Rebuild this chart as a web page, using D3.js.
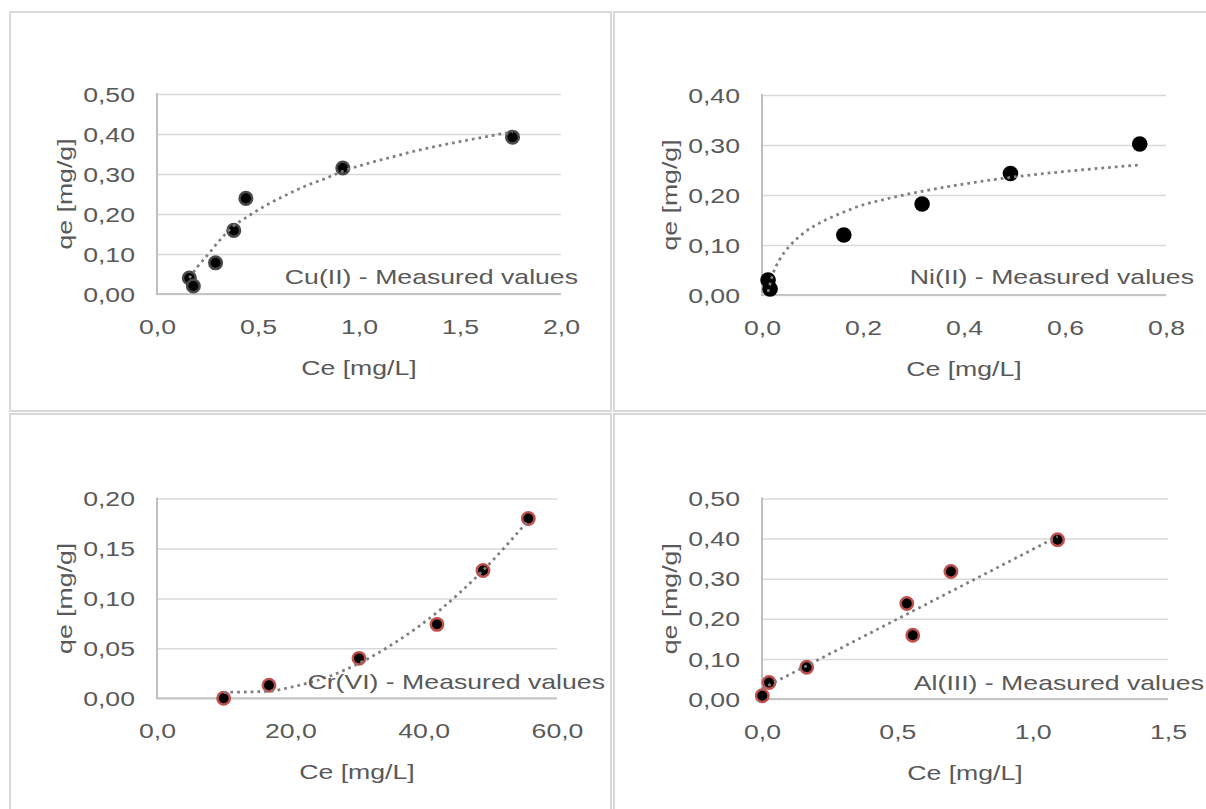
<!DOCTYPE html>
<html>
<head>
<meta charset="utf-8">
<script src="https://cdn.jsdelivr.net/npm/d3@7"></script>
<style>
    body { margin: 0; background: #fff; }
    svg text { font-family: "Liberation Sans", Arial, sans-serif; font-size: 20.5px; fill: #595959; }
</style>
</head>
<body>
<svg id="chart" width="1206" height="809"></svg>
<script>

// ---- data ----
// Cu(II)
var cuCe = [0.16, 0.18, 0.29, 0.38, 0.44, 0.92, 1.76];
var cuQe = [0.040, 0.020, 0.078, 0.159, 0.239, 0.315, 0.392];
var cuTrendCe = [0.16, 0.20, 0.25, 0.30, 0.37, 0.45, 0.53, 0.63, 0.73, 0.83, 0.92, 1.04, 1.16, 1.29, 1.42, 1.55, 1.68, 1.76];
var cuTrendQe = [0.040, 0.068, 0.097, 0.128, 0.166, 0.194, 0.219, 0.245, 0.269, 0.288, 0.307, 0.326, 0.342, 0.359, 0.373, 0.386, 0.398, 0.405];

// Ni(II)
var niCe = [0.012, 0.016, 0.162, 0.317, 0.492, 0.748];
var niQe = [0.030, 0.012, 0.120, 0.182, 0.243, 0.302];
var niTrendCe = [0.012, 0.02, 0.035, 0.053, 0.08, 0.12, 0.16, 0.19, 0.25, 0.32, 0.40, 0.49, 0.60, 0.745];
var niTrendQe = [0.006, 0.037, 0.071, 0.096, 0.122, 0.147, 0.165, 0.177, 0.193, 0.208, 0.222, 0.235, 0.247, 0.260];

// Cr(VI)
var crCe = [10.0, 16.8, 30.3, 42.0, 48.9, 55.7];
var crQe = [0.000, 0.013, 0.040, 0.074, 0.128, 0.180];
var crTrendCe = [10, 16.8, 20, 25, 30.3, 36, 42, 48.9, 55.7];
var crTrendQe = [0.006, 0.007, 0.011, 0.020, 0.035, 0.057, 0.086, 0.128, 0.178];

// Al(III)
var alCe = [0.001, 0.026, 0.165, 0.535, 0.557, 0.698, 1.092];
var alQe = [0.008, 0.041, 0.079, 0.238, 0.159, 0.318, 0.397];
var alTrendCe = [0.001, 1.092];
var alTrendQe = [0.026, 0.405];

// ticks
var yTicksCu = [0, 0.1, 0.2, 0.3, 0.4, 0.5];
var xTicksCu = [0, 0.5, 1.0, 1.5, 2.0];
var yTicksNi = [0, 0.1, 0.2, 0.3, 0.4];
var xTicksNi = [0, 0.2, 0.4, 0.6, 0.8];
var yTicksCr = [0, 0.05, 0.10, 0.15, 0.20];
var xTicksCr = [0, 20, 40, 60];
var yTicksAl = [0, 0.1, 0.2, 0.3, 0.4, 0.5];
var xTicksAl = [0, 0.5, 1.0, 1.5];

var seriesNames = ['Cu(II) - Measured values', 'Ni(II) - Measured values', 'Cr(VI) - Measured values', 'Al(III) - Measured values'];
var xTitle = 'Ce [mg/L]';
var yTitle = 'qe [mg/g]';

// ---- layout ----
var STRETCH = 1.3;   // the labels in the picture are set wide
var loc = d3.formatLocale({ decimal: ',', thousands: '.', grouping: [3], currency: ['', ''] });

var panels = [
    { box: [10, 12, 601, 399], left: 157, right: 561, top: 94, bottom: 294,
      ce: cuCe, qe: cuQe, tCe: cuTrendCe, tQe: cuTrendQe, xTicks: xTicksCu, yTicks: yTicksCu,
      name: seriesNames[0], nameRight: 578, nameY: 277, marker: 'cu' },
    { box: [614, 12, 600, 399], left: 762, right: 1166, top: 95, bottom: 295,
      ce: niCe, qe: niQe, tCe: niTrendCe, tQe: niTrendQe, xTicks: xTicksNi, yTicks: yTicksNi,
      name: seriesNames[1], nameRight: 1194, nameY: 277, marker: 'ni' },
    { box: [10, 414, 601, 400], left: 157, right: 557, top: 498.5, bottom: 698.3,
      ce: crCe, qe: crQe, tCe: crTrendCe, tQe: crTrendQe, xTicks: xTicksCr, yTicks: yTicksCr,
      name: seriesNames[2], nameRight: 605, nameY: 682, marker: 'red' },
    { box: [614, 414, 600, 400], left: 762, right: 1168, top: 498.5, bottom: 699,
      ce: alCe, qe: alQe, tCe: alTrendCe, tQe: alTrendQe, xTicks: xTicksAl, yTicks: yTicksAl,
      name: seriesNames[3], nameRight: 1204, nameY: 683, marker: 'red' }
];

var svg = d3.select('#chart');

panels.forEach(function (p) {
    var x = d3.scaleLinear().domain([p.xTicks[0], p.xTicks[p.xTicks.length - 1]]).range([p.left, p.right]);
    var y = d3.scaleLinear().domain([p.yTicks[0], p.yTicks[p.yTicks.length - 1]]).range([p.bottom, p.top]);
    var g = svg.append('g');

    // chart frame
    g.append('rect')
        .attr('x', p.box[0]).attr('y', p.box[1])
        .attr('width', p.box[2]).attr('height', p.box[3])
        .attr('fill', 'none').attr('stroke', '#d9d9d9').attr('stroke-width', 2);

    // horizontal gridlines + y labels
    g.append('g')
        .attr('transform', 'translate(' + p.left + ',0)')
        .call(d3.axisLeft(y).tickValues(p.yTicks).tickSize(-(p.right - p.left)).tickFormat(loc.format('.2f')))
        .call(function (a) { a.select('.domain').remove(); })
        .call(function (a) {
            a.selectAll('.tick line').attr('stroke', '#d9d9d9').attr('stroke-width', 1.5);
            a.selectAll('.tick text')
                .attr('x', -22 / STRETCH).attr('dy', '0.35em')
                .attr('transform', 'scale(' + STRETCH + ',1)');
        });

    // x labels
    g.append('g')
        .attr('transform', 'translate(0,' + p.bottom + ')')
        .call(d3.axisBottom(x).tickValues(p.xTicks).tickSize(0).tickFormat(loc.format('.1f')))
        .call(function (a) { a.select('.domain').remove(); })
        .call(function (a) {
            a.selectAll('.tick text')
                .attr('y', 33).attr('dy', '0.35em')
                .attr('transform', 'scale(' + STRETCH + ',1)');
        });

    // axis lines
    g.append('line')
        .attr('x1', p.left).attr('x2', p.right).attr('y1', p.bottom).attr('y2', p.bottom)
        .attr('stroke', '#c4c4c4').attr('stroke-width', 2);
    g.append('line')
        .attr('x1', p.left).attr('x2', p.left).attr('y1', p.top - 1).attr('y2', p.bottom + 1)
        .attr('stroke', '#bfbfbf').attr('stroke-width', 2);

    // markers
    var pts = d3.zip(p.ce, p.qe);
    var m = g.append('g').selectAll('circle').data(pts).enter().append('circle')
        .attr('cx', function (d) { return x(d[0]); })
        .attr('cy', function (d) { return y(d[1]); });
    if (p.marker === 'cu') {
        m.attr('r', 6.3).attr('fill', '#000').attr('stroke', '#4a4a4a').attr('stroke-width', 2.5);
    } else if (p.marker === 'ni') {
        m.attr('r', 7.8).attr('fill', '#000');
    } else {
        m.attr('r', 6.2).attr('fill', '#000').attr('stroke', '#c0504d').attr('stroke-width', 2.5);
    }

    // trendline
    var line = d3.line()
        .x(function (d) { return x(d[0]); })
        .y(function (d) { return y(d[1]); })
        .curve(d3.curveMonotoneX);
    g.append('path')
        .datum(d3.zip(p.tCe, p.tQe))
        .attr('d', line)
        .attr('fill', 'none')
        .attr('stroke', '#7f7f7f')
        .attr('stroke-width', 2.75)
        .attr('stroke-dasharray', '2.75,4');

    // axis titles
    g.append('text')
        .attr('transform', 'translate(' + ((p.left + p.right) / 2) + ',' + (p.bottom + 74) + ') scale(' + STRETCH + ',1)')
        .attr('text-anchor', 'middle').attr('dy', '0.35em')
        .text(xTitle);
    g.append('text')
        .attr('transform', 'translate(' + (p.left - 92) + ',' + ((p.top + p.bottom) / 2) + ') rotate(-90) scale(' + STRETCH + ',1)')
        .attr('text-anchor', 'middle').attr('dy', '0.35em')
        .text(yTitle);

    // series label inside the plot
    g.append('text')
        .attr('transform', 'translate(' + p.nameRight + ',' + p.nameY + ') scale(' + STRETCH + ',1)')
        .attr('text-anchor', 'end').attr('dy', '0.35em')
        .text(p.name);
});

</script>
</body>
</html>
